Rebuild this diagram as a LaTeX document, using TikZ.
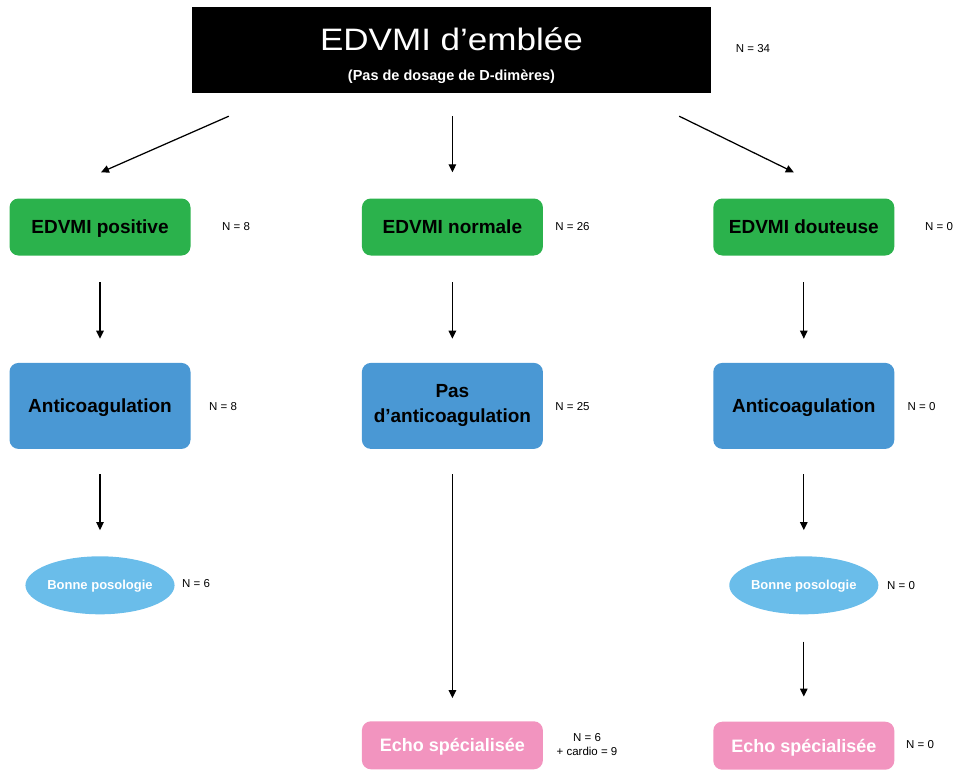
\documentclass[tikz,border=0pt]{standalone}
\usepackage{fontspec}
\setmainfont{Liberation Sans}
\newfontfamily\widefont[FakeStretch=1.13]{Liberation Sans}
\usetikzlibrary{positioning,calc,arrows.meta,shapes.geometric}
\definecolor{edvmigreen}{HTML}{2BB24C}
\definecolor{anticoblue}{HTML}{4A98D4}
\definecolor{posoblue}{HTML}{6ABDEA}
\definecolor{echopink}{HTML}{F294BF}
\pgfmathsetmacro{\boxwid}{181}
\pgfmathsetmacro{\colgap}{171}
\pgfmathsetmacro{\rowgap}{107}
\tikzset{
  flowbox/.style={rounded corners=9pt, minimum width=\boxwid pt, inner sep=0pt,
    align=center, font=\bfseries\fontsize{19}{24}\selectfont},
  capsline/.style={text height=#1, text depth=0pt},
  greenbox/.style={flowbox, capsline=13.6pt, fill=edvmigreen, minimum height=57pt},
  bluebox/.style={flowbox, fill=anticoblue, minimum height=86pt},
  pinkbox/.style={flowbox, capsline=12.9pt, fill=echopink, minimum height=48pt,
    text=white, font=\bfseries\fontsize{18}{21}\selectfont},
  posobox/.style={ellipse, capsline=9.3pt, fill=posoblue, minimum width=136pt,
    minimum height=58pt, inner sep=0pt, text=white,
    font=\bfseries\fontsize{13}{15}\selectfont},
  count/.style={font=\fontsize{11.5}{14}\selectfont, align=center, inner sep=0pt},
  flow/.style={-{Triangle[length=8pt,width=7.5pt]}, line width=1.25pt},
}

\begin{document}
\begin{tikzpicture}[x=1pt, y=-1pt]
    \useasboundingbox (0,0) rectangle (955,769);
    % define nodes
    % header
    \node[fill=black, minimum width=519pt, minimum height=86pt, inner sep=0pt]
      (top) at (451.5,50) {};
    \node[anchor=base, text=white, inner sep=0pt,
      font=\widefont\fontsize{31}{36}\selectfont] (title) at (451.5,50) {EDVMI d’emblée};
    \node[anchor=base, text=white, inner sep=0pt,
      font=\bfseries\fontsize{14.5}{18}\selectfont] (subtitle) at (451.5,80)
      {(Pas de dosage de D-dimères)};
    % result of the exam
    \node[greenbox] (pos_box) at (100,227) {EDVMI positive};
    \node[greenbox, right=\colgap pt of pos_box] (norm_box) {EDVMI normale};
    \node[greenbox, right=\colgap pt-1pt of norm_box] (dout_box) {EDVMI douteuse};
    % treatment
    \node[bluebox, capsline=13.6pt, below=\rowgap pt of pos_box] (anti_l) {Anticoagulation};
    \node[bluebox, below=\rowgap pt of norm_box] (anti_none) {Pas\\[1pt]d’anticoagulation};
    \node[bluebox, capsline=13.6pt, below=\rowgap pt of dout_box] (anti_r) {Anticoagulation};
    % dosage
    \node[posobox, below=\rowgap pt of anti_l] (poso_l) {Bonne posologie};
    \node[posobox, below=\rowgap pt of anti_r] (poso_r) {Bonne posologie};
    % echo
    \node[pinkbox, below=272pt of anti_none] (echo_m) {Echo spécialisée};
    \node[pinkbox, below=\rowgap pt of poso_r] (echo_r) {Echo spécialisée};
    % free ends of the slanted arrows
    \coordinate (top_l) at ($(top.south west)+(37,23)$);
    \coordinate (top_r) at ($(top.south east)+(-32,23)$);
    \coordinate (pos_in) at ($(pos_box.north)+(1,-26)$);
    \coordinate (dout_in) at ($(dout_box.north)+(-10,-26)$);
    % draw arrows
    \draw[flow] (top_l) -- (pos_in);
    \draw[flow, shorten <=23pt, shorten >=26pt] (top.south -| norm_box) -- (norm_box);
    \draw[flow] (top_r) -- (dout_in);
    \draw[flow, shorten <=26.5pt, shorten >=24pt] (pos_box) -- (anti_l);
    \draw[flow, shorten <=26.5pt, shorten >=24pt] (norm_box) -- (anti_none);
    \draw[flow, shorten <=26.5pt, shorten >=24pt] (dout_box) -- (anti_r);
    \draw[flow, shorten <=25pt, shorten >=26pt] (anti_l) -- (poso_l);
    \draw[flow, shorten <=25pt, shorten >=26pt] (anti_r) -- (poso_r);
    \draw[flow, shorten <=25pt, shorten >=23pt] (anti_none) -- (echo_m);
    \draw[flow, shorten <=27pt, shorten >=25pt] (poso_r) -- (echo_r);
    % add labels
    \node[count] at (753,49) {N = 34};
    \node[count] at (236,227) {N = 8};
    \node[count] at (572.5,227) {N = 26};
    \node[count] at (939,227) {N = 0};
    \node[count] at (223,407) {N = 8};
    \node[count] at (572.5,407) {N = 25};
    \node[count] at (921.5,407) {N = 0};
    \node[count] at (196,584) {N = 6};
    \node[count] at (901,586) {N = 0};
    \node[count] at (587,745) {N = 6\\+ cardio = 9};
    \node[count] at (920,745) {N = 0};
\end{tikzpicture}
\end{document}
